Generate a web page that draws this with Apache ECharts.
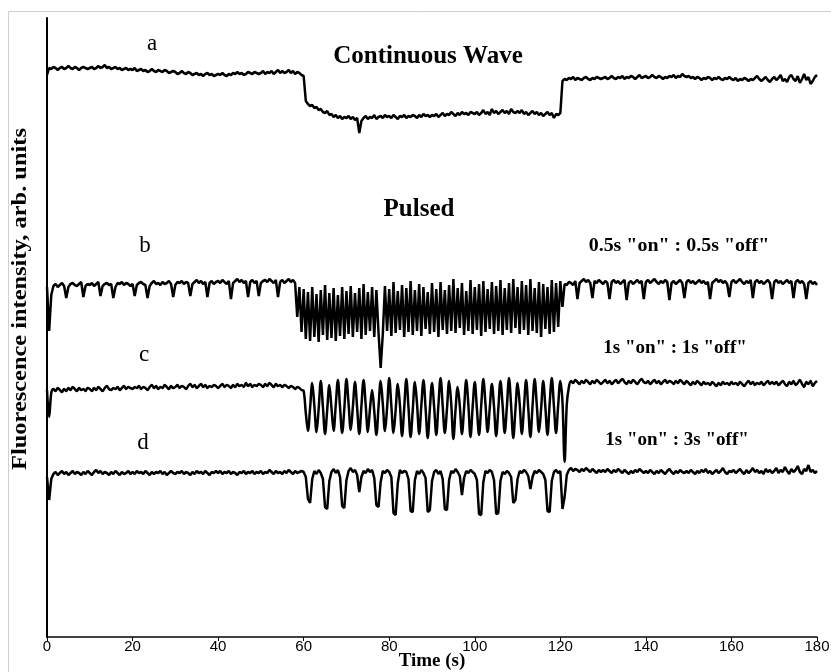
<!DOCTYPE html>
<html>
<head>
<meta charset="utf-8">
<script src="https://cdn.jsdelivr.net/npm/echarts@6/dist/echarts.min.js"></script>
<style>
  html, body { margin: 0; padding: 0; background: #fff; }
  #chartDom { width: 831px; height: 672px; }
</style>
</head>
<body>
<div id="chartDom"></div>
<script>
// sample step of every trace, seconds
var STEP = 0.5;
var xTicks = [0, 20, 40, 60, 80, 100, 120, 140, 160, 180];

// a: continuous wave
var traceA = [
  562,569,568,570,569,567,569,570,568,569,571,569,568,570,569,567,569,570,569,568,
  569,570,568,569,571,569,570,572,569,570,568,569,570,568,569,567,568,569,567,568,
  567,569,566,567,568,566,567,565,566,568,566,565,567,566,565,567,566,564,565,566,
  565,563,564,566,564,563,565,564,562,563,564,562,563,561,563,564,562,563,561,562,
  563,562,564,562,561,563,562,564,563,565,563,564,562,563,565,564,563,565,564,563,
  564,566,563,565,564,566,563,565,567,564,566,564,565,567,564,566,563,565,564,562,
  561,536,533,531,532,529,530,527,528,525,524,526,522,523,520,522,519,521,518,520,
  519,521,518,520,517,519,504,516,519,521,518,520,519,522,518,520,521,519,522,520,
  521,519,522,520,518,521,520,522,519,521,520,522,521,519,522,520,523,521,522,520,
  522,521,523,520,522,524,521,523,522,525,523,521,524,522,525,523,524,522,525,524,
  523,525,522,524,527,523,525,522,528,524,526,523,525,527,524,526,523,528,525,524,
  526,524,527,523,525,522,524,526,523,525,522,524,521,523,525,522,524,519,523,522,
  524,556,558,557,559,558,560,557,559,558,557,559,560,558,557,559,558,560,559,558,
  559,560,558,559,561,559,558,560,559,561,558,560,559,561,560,558,560,562,559,560,
  561,559,560,562,560,559,561,560,558,560,559,561,560,562,559,561,560,563,561,560,
  561,559,560,558,560,559,557,559,558,560,559,557,559,558,560,558,557,559,558,560,
  558,557,559,556,558,557,559,558,556,558,557,559,561,558,556,558,560,557,555,558,
  560,557,559,562,556,558,555,560,562,558,556,561,554,558,563,557,560,553,556,560,
  562
];

// b: 0.5s on : 0.5s off
var traceB = [
  350,306,342,351,353,350,352,354,351,339,350,353,354,352,351,353,355,340,351,353,
  352,354,351,353,355,341,351,353,354,352,353,339,350,354,353,355,352,354,353,351,
  353,341,352,354,355,353,352,339,351,354,356,353,354,352,355,353,354,356,353,340,
  352,355,354,356,353,355,354,341,353,355,357,354,356,353,355,340,354,356,353,355,
  356,354,357,355,353,356,338,354,356,358,355,357,354,356,340,355,357,354,356,341,
  354,356,357,355,358,356,354,357,340,355,357,354,356,358,355,357,354,320,350,305,
  348,298,345,296,350,300,343,295,347,302,352,297,344,299,349,296,342,301,350,298,
  346,303,351,300,344,305,349,298,353,302,345,306,350,300,347,304,269,303,351,306,
  348,301,355,304,346,307,352,300,349,305,356,302,347,306,353,301,350,308,345,303,
  354,305,348,300,355,307,347,303,352,306,358,304,349,309,354,302,346,306,357,303,
  350,307,353,301,356,305,348,308,355,303,351,306,357,302,349,307,354,304,358,309,
  350,303,356,307,352,302,358,306,349,304,355,300,353,308,350,303,357,305,354,310,
  356,330,353,352,355,354,352,356,338,354,356,358,355,357,354,339,356,354,357,355,
  353,356,354,338,355,357,354,356,353,355,357,337,354,356,353,355,357,354,356,338,
  355,357,354,356,358,355,353,356,354,357,355,337,354,356,353,355,357,354,339,355,
  357,354,356,353,355,357,354,356,353,355,338,354,356,358,355,357,354,356,353,340,
  355,357,354,356,358,355,353,356,354,357,339,355,357,354,356,353,355,357,354,338,
  355,357,354,356,353,355,357,354,356,339,355,357,354,356,353,338,354,356,353,355,
  352
];

// c: 1s on : 1s off
var traceC = [
  247,220,244,248,246,249,247,245,248,246,249,247,250,248,246,249,247,248,246,249,
  248,246,249,247,250,248,246,249,251,248,247,249,248,250,247,249,251,248,250,249,
  248,250,249,251,248,250,249,247,250,252,249,251,248,250,249,252,250,248,251,249,
  250,252,249,251,250,248,251,253,250,252,249,251,253,250,252,249,251,250,252,251,
  249,251,253,250,252,251,249,252,250,253,251,252,250,254,251,253,250,252,251,253,
  252,250,253,251,254,252,250,253,251,252,250,252,251,249,251,250,248,250,249,247,
  246,224,206,229,254,231,205,228,256,230,203,227,252,229,206,232,257,230,204,228,
  258,233,207,230,255,229,203,231,257,232,205,228,247,226,202,230,256,233,206,229,
  259,231,204,227,253,232,201,229,258,230,200,227,255,233,203,231,257,229,199,228,
  254,230,202,232,259,231,204,228,256,233,198,227,250,231,203,229,257,232,200,230,
  255,228,202,231,258,233,205,229,253,230,201,228,256,232,204,230,259,231,199,227,
  254,233,203,230,257,229,200,231,258,232,205,228,256,230,202,233,259,231,204,232,
  256,235,175,232,250,256,254,257,255,253,256,254,257,255,253,256,254,257,255,253,
  255,257,254,256,253,255,257,254,256,258,255,253,256,254,257,255,253,256,258,255,
  254,256,253,255,257,254,256,253,255,257,254,256,255,253,256,254,257,255,253,256,
  254,252,255,253,256,254,252,255,253,254,252,255,253,251,254,252,255,253,254,252,
  255,253,254,252,255,253,251,254,256,253,255,252,254,253,255,252,254,256,253,255,
  253,255,252,254,256,253,251,255,253,256,252,254,257,253,250,255,253,256,251,254,
  256
];

// d: 1s on : 3s off
var traceD = [
  160,137,158,163,165,162,164,166,163,165,162,164,166,163,165,164,162,165,163,166,
  164,162,165,167,164,166,163,165,164,162,165,163,166,164,162,165,163,164,166,163,
  165,163,166,164,165,163,166,164,162,165,163,165,164,166,163,165,162,164,166,164,
  163,165,164,166,163,165,164,162,165,163,166,164,165,163,166,164,162,165,164,166,
  164,166,163,165,164,166,163,165,164,162,165,164,166,163,165,164,166,163,165,164,
  166,163,165,164,167,165,163,166,164,165,163,166,164,167,165,163,166,164,165,166,
  165,160,138,134,158,166,163,167,164,158,130,128,156,165,168,164,167,160,131,129,
  157,166,169,165,167,162,145,160,166,164,168,165,167,159,132,130,155,166,164,167,
  165,160,124,122,154,167,164,166,165,158,126,125,157,166,163,167,164,159,125,127,
  156,165,167,163,166,158,128,127,157,166,164,168,165,161,142,159,166,164,167,165,
  163,157,123,122,155,166,164,167,165,157,123,124,156,165,163,166,164,160,134,137,
  158,166,164,167,165,161,148,160,166,164,167,165,163,157,126,125,156,165,167,164,
  166,128,140,162,167,169,166,168,167,165,168,166,169,167,165,168,166,164,167,165,
  167,165,168,166,164,167,165,168,166,164,167,165,163,166,164,167,165,168,166,164,
  166,164,167,165,163,166,164,167,165,163,166,168,165,163,166,164,167,165,164,166,
  164,167,165,163,166,164,167,165,168,164,166,163,165,167,164,166,169,165,163,166,
  165,167,164,166,168,165,163,167,164,166,169,165,167,164,166,163,168,165,167,164,
  166,169,164,167,165,170,166,163,168,165,167,171,165,163,168,166,172,165,167,164,
  166
];

function toPairs(arr) {
  return arr.map(function (v, i) { return [i * STEP, v]; });
}

var serifFont = '"Liberation Serif", "Times New Roman", serif';

function trace(name, arr, smooth) {
  return {
    name: name,
    type: 'line',
    data: toPairs(arr),
    showSymbol: false,
    symbol: 'none',
    smooth: smooth || false,
    animation: false,
    lineStyle: { color: '#000', width: 2.5 },
    z: 3
  };
}

function label(text, x, y, size, bold, sx) {
  return {
    type: 'text',
    x: x,
    y: y,
    scaleX: sx || 1,
    style: {
      text: text,
      fill: '#000',
      font: (bold ? 'bold ' : '') + size + 'px ' + serifFont,
      textAlign: 'center',
      textVerticalAlign: 'middle'
    }
  };
}

var chartDom = document.getElementById('chartDom');
var myChart = echarts.init(chartDom);
var option = {
  backgroundColor: '#fff',
  animation: false,
  grid: { left: 47, right: 14, top: 18, bottom: 35, outerBoundsMode: 'none', containLabel: false },
  xAxis: {
    type: 'value',
    min: 0,
    max: 180,
    interval: 20,
    axisLine: { lineStyle: { color: '#000', width: 1.5 } },
    axisTick: { show: true, length: 4, lineStyle: { color: '#000' } },
    axisLabel: {
      color: '#000', fontFamily: '"Liberation Sans", Arial, sans-serif',
      fontSize: 15, margin: 2,
      formatter: function (v) { return xTicks.indexOf(v) >= 0 ? String(v) : ''; }
    },
    splitLine: { show: false }
  },
  yAxis: {
    type: 'value',
    min: 0,
    max: 619,
    axisLine: { show: true, lineStyle: { color: '#000', width: 2 } },
    axisTick: { show: false },
    axisLabel: { show: false },
    splitLine: { show: false }
  },
  graphic: [
    {
      type: 'rect', silent: true, z: -10,
      shape: { x: 8.5, y: 11.5, width: 830, height: 670 },
      style: { fill: 'none', stroke: '#cfcfcf', lineWidth: 1 }
    },
    {
      type: 'text',
      x: 21, y: 299, rotation: Math.PI / 2, scaleX: 1.22,
      style: {
        text: 'Fluorescence intensity, arb. units',
        fill: '#000',
        font: 'bold 20px ' + serifFont,
        textAlign: 'center',
        textVerticalAlign: 'middle'
      }
    },
    label('Time (s)', 432, 661, 19, true),
    label('a', 152, 44, 23, false),
    label('Continuous Wave', 428, 57, 25, true),
    label('Pulsed', 419, 210, 25, true),
    label('b', 145, 246, 23, false),
    label('0.5s "on" : 0.5s "off"', 679, 246, 19, true, 1.05),
    label('c', 144, 355, 23, false),
    label('1s "on" : 1s "off"', 675, 348, 19, true),
    label('d', 143, 443, 23, false),
    label('1s "on" : 3s "off"', 677, 440, 19, true)
  ],
  series: [
    trace('a', traceA),
    trace('b', traceB),
    trace('c', traceC, 0.35),
    trace('d', traceD)
  ]
};
myChart.setOption(option);
</script>
</body>
</html>
